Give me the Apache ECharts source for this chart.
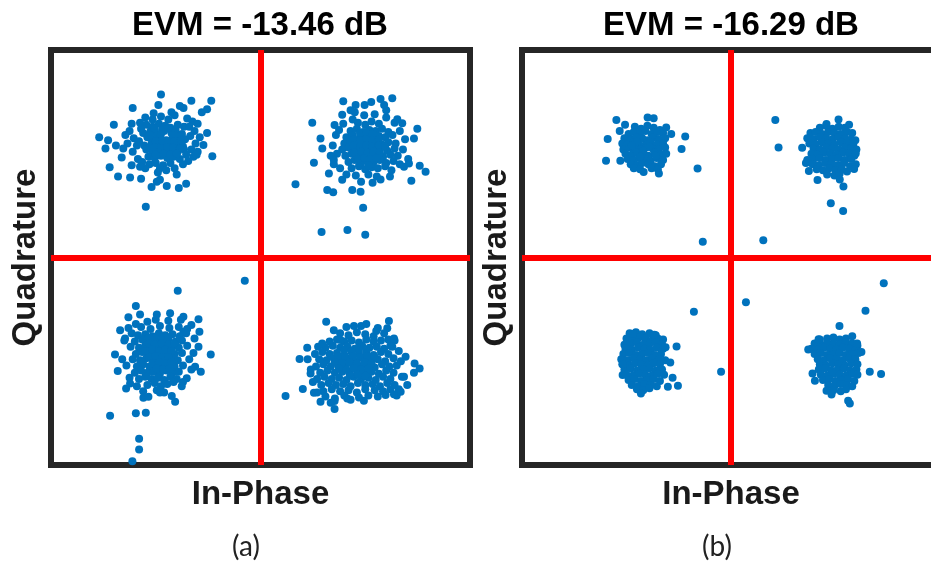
<!DOCTYPE html>
<html>
<head>
<meta charset="utf-8">
<script src="https://cdn.jsdelivr.net/npm/echarts@6/dist/echarts.min.js"></script>
<style>
  html, body { margin: 0; padding: 0; background: #fff; }
  #chart { width: 931px; height: 564px; }
</style>
</head>
<body>
<div id="chart"></div>
<script>
// Panel titles, axis names and captions
const evmTitles = ['EVM = -13.46 dB', 'EVM = -16.29 dB'];
const panelTags = ['(a)', '(b)'];
const xName = 'In-Phase';
const yName = 'Quadrature';

// Received QPSK symbols, panel (a): one array per quadrant [I, Q]
const aTopLeft = [
  [-1.09,1.28],[-1.03,1.26],[-0.97,1.29],[-0.91,1.27],[-0.86,1.25],[-0.79,1.28],[-0.73,1.26],
  [-1.12,1.20],[-1.05,1.22],[-0.99,1.19],[-0.92,1.22],[-0.85,1.20],[-0.81,1.23],[-0.75,1.19],
  [-1.08,1.16],[-1.02,1.14],[-0.96,1.16],[-0.90,1.13],[-0.84,1.15],[-0.78,1.17],[-0.72,1.14],
  [-1.11,1.08],[-1.04,1.10],[-0.98,1.07],[-0.93,1.10],[-0.87,1.08],[-0.80,1.10],[-0.74,1.07],
  [-1.09,1.04],[-1.03,1.02],[-0.97,1.04],[-0.91,1.01],[-0.85,1.03],[-0.79,1.02],[-0.73,1.04],
  [-1.07,0.97],[-1.01,0.96],[-0.95,0.98],[-0.89,0.96],[-0.83,0.97],[-0.77,0.95],
  [-1.01,1.24],[-0.94,1.23],[-0.88,1.25],[-0.83,1.18],[-0.95,1.19],[-1.06,1.18],[-1.00,1.12],
  [-0.94,1.13],[-0.88,1.11],[-0.82,1.12],[-0.76,1.13],[-1.07,1.06],[-1.01,1.06],[-0.95,1.05],
  [-0.89,1.06],[-0.83,1.06],[-0.77,1.05],[-0.93,1.00],[-0.86,0.99],[-1.00,0.99],[-0.80,1.00],
  [-1.25,1.22],[-1.21,1.15],[-1.18,1.08],[-1.22,1.02],[-1.17,0.95],[-1.15,1.30],[-1.10,1.35],
  [-1.03,1.33],[-0.95,1.36],[-0.88,1.33],[-0.82,1.37],[-0.70,1.34],[-0.65,1.31],[-0.63,1.22],
  [-0.67,1.17],[-0.62,1.10],[-0.66,1.04],[-0.64,0.97],[-0.69,0.93],[-0.74,0.90],[-0.86,0.91],
  [-0.93,0.89],[-1.00,0.91],[-1.06,0.90],[-1.13,0.92],[-1.27,1.10],[-1.31,1.05],[-1.16,1.12],
  [-1.14,1.24],[-0.68,1.26],[-0.58,1.16],[-0.60,1.02],[-0.71,0.99],[-0.82,0.86],[-1.10,0.86],[-0.96,0.86],
  [-0.95,1.57],[-1.22,1.44],[-0.66,1.51],[-0.47,1.51],[-0.51,1.43],[-0.56,1.40],[-1.40,1.28],
  [-1.54,1.16],[-1.48,1.05],[-1.455,1.13],[-1.38,1.08],[-1.44,0.87],[-1.36,0.78],[-1.245,0.77],
  [-1.14,0.76],[-1.095,0.49],[-0.46,0.975],[-0.71,0.71],[-0.78,0.67],[-0.895,0.69],[-1.04,0.68],
  [-0.99,0.73],[-0.96,0.75],[-0.80,0.80],[-0.90,0.84],[-0.98,0.82],[-0.61,0.99],[-0.545,1.085],
  [-0.51,1.20],[-0.60,1.29],[-0.735,1.44],[-0.77,1.46],[-0.975,1.47],[-1.02,1.39],[-0.85,1.40],
  [-1.23,1.29],[-1.29,1.18],[-1.325,0.965],[-1.23,0.89],[-1.15,0.875]
];
const aTopRight = [
  [0.93,1.30],[1.00,1.28],[1.06,1.31],[1.13,1.29],
  [0.86,1.22],[0.92,1.24],[0.98,1.21],[1.04,1.23],[1.10,1.22],[1.16,1.24],[1.22,1.21],
  [0.82,1.16],[0.88,1.18],[0.95,1.16],[1.01,1.18],[1.07,1.15],[1.13,1.17],[1.19,1.16],[1.26,1.18],
  [0.80,1.10],[0.86,1.12],[0.92,1.09],[0.98,1.11],[1.04,1.10],[1.10,1.12],[1.16,1.09],[1.22,1.11],[1.29,1.10],
  [0.78,1.04],[0.84,1.06],[0.90,1.03],[0.97,1.05],[1.03,1.06],[1.09,1.04],[1.15,1.06],[1.21,1.03],[1.28,1.05],
  [0.81,0.98],[0.87,1.00],[0.93,0.97],[0.99,0.99],[1.05,0.98],[1.11,1.00],[1.17,0.97],[1.24,0.99],[1.31,0.98],
  [0.84,0.92],[0.90,0.94],[0.96,0.91],[1.02,0.93],[1.08,0.92],[1.14,0.94],[1.20,0.91],[1.27,0.93],
  [0.87,0.86],[0.94,0.88],[1.00,0.85],[1.06,0.87],[1.12,0.86],[1.19,0.88],
  [0.95,1.20],[1.01,1.21],[1.07,1.19],[0.89,1.14],[0.95,1.13],[1.01,1.14],[1.07,1.13],[1.13,1.14],
  [0.89,1.08],[0.95,1.07],[1.01,1.08],[1.07,1.07],[1.13,1.08],[1.19,1.07],[0.90,1.01],[0.96,1.02],
  [1.02,1.01],[1.08,1.02],[1.14,1.01],[0.93,0.95],[0.99,0.96],[1.05,0.95],[1.11,0.96],[1.03,0.89],
  [0.72,1.18],[0.69,1.08],[0.73,1.00],[0.70,0.90],[0.76,0.86],[0.82,0.80],[0.91,0.79],[1.03,0.80],
  [1.11,0.78],[1.25,0.84],[1.33,0.90],[1.36,1.04],[1.38,1.14],[1.33,1.22],[1.28,1.30],[1.20,1.35],
  [1.09,1.38],[0.99,1.37],[0.88,1.33],[0.79,1.29],[0.75,1.23],[0.67,0.98],[0.96,0.73],[1.07,0.72],
  [1.41,0.95],[1.20,1.42],[0.90,1.40],
  [0.79,1.505],[0.494,1.30],[0.334,0.705],[0.583,0.245],[0.83,0.264],[1.00,0.22],[0.98,0.48],
  [0.637,0.65],[0.694,0.63],[0.876,0.65],[0.955,0.634],[1.258,1.535],[1.146,1.528],[1.057,1.50],
  [0.994,1.47],[0.908,1.47],[1.18,1.47],[1.497,1.24],[1.465,1.148],[1.52,0.885],[1.576,0.827],
  [1.44,0.74],[1.37,0.875],[1.417,0.907],[1.236,0.78],[1.146,0.753],[1.353,1.293],[1.306,1.332],
  [0.51,0.914],[0.573,1.148],[0.59,1.05],[0.707,1.277],[0.78,1.375],[0.86,1.42],[0.70,0.94],
  [0.653,0.81],[0.78,0.75]
];
const aBottomLeft = [
  [-1.14,-0.67],[-1.05,-0.69],[-0.96,-0.66],[-0.87,-0.68],[-0.78,-0.67],[-0.70,-0.69],
  [-1.23,-0.73],[-1.17,-0.75],[-1.10,-0.74],[-1.03,-0.76],[-0.97,-0.73],[-0.91,-0.75],[-0.84,-0.74],[-0.77,-0.76],[-0.71,-0.73],
  [-1.20,-0.81],[-1.13,-0.79],[-1.07,-0.81],[-1.00,-0.80],[-0.94,-0.82],[-0.88,-0.79],[-0.81,-0.81],[-0.75,-0.80],
  [-1.24,-0.86],[-1.16,-0.87],[-1.10,-0.85],[-1.04,-0.87],[-0.97,-0.85],[-0.91,-0.88],[-0.85,-0.86],[-0.78,-0.87],[-0.70,-0.85],
  [-1.19,-0.93],[-1.13,-0.91],[-1.06,-0.93],[-1.00,-0.92],[-0.94,-0.94],[-0.88,-0.91],[-0.82,-0.93],[-0.75,-0.92],
  [-1.22,-0.98],[-1.15,-0.99],[-1.09,-0.97],[-1.03,-0.99],[-0.97,-0.98],[-0.91,-1.00],[-0.85,-0.97],[-0.79,-0.99],[-0.68,-0.98],
  [-1.18,-1.05],[-1.12,-1.03],[-1.06,-1.05],[-1.00,-1.04],[-0.94,-1.06],[-0.88,-1.03],[-0.82,-1.05],[-0.74,-1.04],
  [-1.20,-1.11],[-1.14,-1.09],[-1.08,-1.11],[-1.02,-1.10],[-0.96,-1.12],[-0.90,-1.09],[-0.84,-1.11],[-0.78,-1.10],
  [-1.16,-1.17],[-1.10,-1.15],[-1.04,-1.17],[-0.98,-1.16],[-0.92,-1.18],[-0.86,-1.15],[-0.80,-1.17],
  [-1.08,-1.23],[-1.01,-1.21],[-0.95,-1.24],[-0.89,-1.22],[-0.83,-1.20],
  [-1.07,-0.77],[-1.01,-0.78],[-0.94,-0.77],[-0.88,-0.77],[-1.07,-0.83],[-1.01,-0.84],[-0.94,-0.83],
  [-0.88,-0.84],[-0.82,-0.83],[-1.10,-0.90],[-1.03,-0.89],[-0.97,-0.90],[-0.91,-0.89],[-0.85,-0.90],
  [-1.06,-0.96],[-1.00,-0.95],[-0.94,-0.96],[-0.88,-0.96],[-1.03,-1.02],[-0.97,-1.01],[-0.91,-1.02],
  [-0.85,-1.01],[-0.99,-1.07],[-0.93,-1.08],[-0.87,-1.07],
  [-1.30,-0.80],[-1.32,-0.98],[-1.28,-1.04],[-1.25,-1.16],[-1.18,-1.24],[-1.12,-1.29],[-0.99,-1.28],
  [-0.92,-1.30],[-0.74,-1.20],[-0.66,-1.08],[-0.64,-0.92],[-0.63,-0.78],[-0.66,-0.65],[-0.76,-0.60],
  [-0.88,-0.61],[-1.00,-0.60],[-1.08,-0.62],[-1.19,-0.64],[-1.26,-0.68],[-0.99,-0.55],[-1.15,-0.55],
  [-0.15,-0.223],[-0.79,-0.32],[-1.19,-0.468],[-1.436,-1.525],[-1.19,-1.50],[-1.095,-1.497],
  [-1.159,-1.747],[-1.159,-1.85],[-1.223,-1.963],[-1.389,-0.934],[-1.363,-1.095],[-0.475,-0.934],
  [-0.57,-1.101],[-0.592,-0.86],[-0.592,-0.596],[-0.736,-0.57],[-0.863,-0.538],[-1.261,-0.577],
  [-1.34,-0.70],[-1.293,-0.78],[-1.283,-1.262],[-1.245,-1.214],[-1.118,-1.352],[-1.07,-1.342],
  [-0.815,-1.39],[-0.847,-1.336],[-0.96,-1.30],[-0.704,-1.165],[-0.752,-1.24],[-0.624,-1.053],
  [-0.583,-0.715],[-0.736,-0.715]
];
const aBottomRight = [
  [0.76,-0.73],[0.84,-0.75],[0.92,-0.72],[1.00,-0.74],[1.08,-0.76],[1.18,-0.73],
  [0.66,-0.81],[0.73,-0.79],[0.80,-0.81],[0.87,-0.80],[0.94,-0.82],[1.01,-0.79],[1.08,-0.81],[1.15,-0.80],[1.22,-0.79],
  [0.55,-0.86],[0.62,-0.87],[0.69,-0.85],[0.76,-0.87],[0.83,-0.86],[0.90,-0.88],[0.97,-0.85],[1.04,-0.87],[1.11,-0.86],[1.18,-0.88],[1.24,-0.85],
  [0.52,-0.93],[0.59,-0.91],[0.66,-0.93],[0.73,-0.92],[0.80,-0.94],[0.87,-0.91],[0.94,-0.93],[1.01,-0.92],[1.08,-0.94],[1.15,-0.91],[1.22,-0.93],
  [0.56,-0.98],[0.63,-0.99],[0.70,-0.97],[0.77,-0.99],[0.84,-0.98],[0.91,-1.00],[0.98,-0.97],[1.05,-0.99],[1.12,-0.98],[1.19,-1.00],[1.27,-0.97],
  [0.53,-1.05],[0.60,-1.03],[0.67,-1.05],[0.74,-1.04],[0.81,-1.06],[0.88,-1.03],[0.95,-1.05],[1.02,-1.04],[1.09,-1.06],[1.16,-1.03],[1.23,-1.05],[1.30,-1.04],
  [0.57,-1.11],[0.64,-1.09],[0.71,-1.11],[0.78,-1.10],[0.85,-1.12],[0.92,-1.09],[0.99,-1.11],[1.06,-1.10],[1.13,-1.12],[1.20,-1.09],[1.27,-1.11],
  [0.54,-1.17],[0.61,-1.15],[0.68,-1.17],[0.75,-1.16],[0.82,-1.18],[0.89,-1.15],[0.96,-1.17],[1.03,-1.16],[1.10,-1.18],[1.17,-1.15],[1.24,-1.17],
  [0.58,-1.23],[0.65,-1.21],[0.72,-1.23],[0.79,-1.22],[0.86,-1.24],[0.93,-1.21],[1.00,-1.23],[1.07,-1.22],[1.14,-1.24],[1.21,-1.21],[1.28,-1.23],
  [0.60,-1.29],[0.68,-1.27],[0.76,-1.29],[0.84,-1.28],[0.92,-1.30],[1.00,-1.27],[1.09,-1.28],[1.17,-1.29],[1.24,-1.27],
  [0.62,-1.34],[0.71,-1.36],[0.80,-1.33],[0.94,-1.35],[1.03,-1.33],
  [0.80,-0.89],[0.87,-0.90],[0.94,-0.89],[1.01,-0.90],[0.74,-0.95],[0.81,-0.96],[0.88,-0.95],[0.95,-0.96],
  [1.02,-0.95],[1.09,-0.96],[0.71,-1.01],[0.78,-1.02],[0.85,-1.01],[0.92,-1.02],[0.99,-1.01],[1.06,-1.02],
  [0.75,-1.07],[0.82,-1.08],[0.89,-1.07],[0.96,-1.08],[1.03,-1.07],[0.86,-1.14],[0.93,-1.13],[1.00,-1.14],
  [0.45,-0.98],[0.48,-1.08],[0.50,-1.20],[0.70,-0.70],[0.82,-0.67],[0.96,-0.66],[1.12,-0.68],[1.28,-0.80],
  [1.32,-0.90],[1.34,-1.00],[1.35,-1.15],[1.32,-1.27],[1.30,-1.33],[1.12,-1.34],[0.86,-1.37],[0.67,-1.40],[0.54,-1.30],
  [0.239,-1.336],[0.404,-1.268],[0.373,-0.979],[0.446,-0.87],[0.627,-0.619],[0.589,-0.828],[0.707,-1.461],
  [0.707,-1.384],[1.226,-0.612],[1.21,-0.683],[1.105,-0.709],[1.01,-0.641],[0.892,-0.661],[1.385,-0.956],
  [1.471,-1.021],[1.519,-1.069],[1.465,-1.11],[1.401,-1.23],[1.37,-1.149],[1.338,-1.294],[1.274,-1.317],
  [1.194,-1.326],[0.987,-1.381],[0.828,-1.358],[0.573,-1.391],[0.51,-1.304],[0.478,-1.117],[1.258,-0.86],
  [1.274,-0.78],[0.764,-0.796]
];

// Received QPSK symbols, panel (b)
const bTopLeft = [
  [-0.92,1.26],[-0.86,1.24],[-0.80,1.27],[-0.74,1.25],[-0.68,1.23],
  [-0.98,1.19],[-0.93,1.21],[-0.87,1.20],[-0.82,1.22],[-0.76,1.19],[-0.70,1.21],[-0.65,1.20],
  [-1.02,1.15],[-0.96,1.14],[-0.91,1.16],[-0.85,1.15],[-0.80,1.13],[-0.74,1.16],[-0.69,1.14],[-0.63,1.15],
  [-1.04,1.10],[-0.99,1.09],[-0.93,1.11],[-0.88,1.10],[-0.82,1.08],[-0.77,1.11],[-0.71,1.09],[-0.65,1.10],
  [-1.03,1.04],[-0.97,1.06],[-0.92,1.05],[-0.86,1.04],[-0.81,1.06],[-0.75,1.05],[-0.69,1.04],[-0.63,1.06],
  [-1.01,1.00],[-0.95,0.99],[-0.90,1.01],[-0.84,1.00],[-0.79,0.98],[-0.73,1.01],[-0.67,0.99],[-0.62,1.00],
  [-0.99,0.95],[-0.93,0.94],[-0.88,0.96],[-0.82,0.95],[-0.77,0.93],[-0.71,0.96],[-0.65,0.94],
  [-0.96,0.90],[-0.90,0.89],[-0.85,0.91],[-0.79,0.90],[-0.73,0.88],[-0.67,0.90],
  [-0.93,0.86],[-0.87,0.85],[-0.76,0.86],[-0.70,0.85],
  [-0.90,1.12],[-0.84,1.03],[-0.78,1.07],[-0.72,0.98],[-0.87,0.97],[-0.95,1.08],
  [-1.097,1.325],[-1.014,1.28],[-1.065,1.219],[-1.18,1.141],[-1.196,0.932],[-1.059,0.932],
  [-0.438,1.167],[-0.473,1.045],[-0.32,0.858],[-0.27,0.151],[-0.69,0.81],[-0.836,0.823],
  [-0.572,1.19],[-0.62,1.254],[-0.798,1.35],[-0.74,1.341]
];
const bTopRight = [
  [0.85,1.25],[0.91,1.27],[0.97,1.24],[1.03,1.26],[1.09,1.25],[1.13,1.28],
  [0.76,1.20],[0.81,1.21],[0.87,1.19],[0.93,1.21],[0.99,1.20],[1.05,1.19],[1.11,1.21],[1.16,1.20],
  [0.73,1.15],[0.79,1.14],[0.85,1.16],[0.91,1.15],[0.97,1.14],[1.03,1.16],[1.09,1.15],[1.15,1.14],[1.19,1.13],
  [0.75,1.10],[0.81,1.09],[0.87,1.11],[0.93,1.10],[0.99,1.09],[1.05,1.11],[1.11,1.10],[1.17,1.09],
  [0.79,1.05],[0.85,1.04],[0.91,1.06],[0.97,1.05],[1.03,1.04],[1.09,1.06],[1.15,1.05],[1.20,1.04],
  [0.77,1.00],[0.83,0.99],[0.89,1.01],[0.95,1.00],[1.01,0.99],[1.07,1.01],[1.13,1.00],[1.18,0.98],
  [0.73,0.94],[0.79,0.95],[0.85,0.96],[0.91,0.94],[0.97,0.95],[1.03,0.96],[1.09,0.94],[1.15,0.95],
  [0.78,0.90],[0.84,0.89],[0.90,0.91],[0.96,0.90],[1.02,0.89],[1.08,0.91],[1.14,0.88],
  [0.82,0.85],[0.88,0.84],[0.94,0.86],[1.00,0.84],[1.06,0.85],[1.11,0.83],
  [0.92,0.80],[0.99,0.79],[1.04,0.81],
  [0.424,1.325],[0.455,1.061],[0.309,0.167],[0.955,0.524],[1.073,0.447],[1.076,0.685],[0.828,0.746],
  [1.029,1.331],[0.914,1.286],[0.681,1.058],[0.717,0.91],[0.745,0.833],[1.194,1.003],[1.194,0.90],
  [1.178,0.852],[1.169,1.116],[1.041,0.752]
];
const bBottomLeft = [
  [-0.97,-0.73],[-0.91,-0.72],[-0.85,-0.74],[-0.78,-0.73],[-0.72,-0.75],
  [-1.00,-0.78],[-0.94,-0.79],[-0.88,-0.77],[-0.82,-0.78],[-0.76,-0.80],[-0.70,-0.78],[-0.65,-0.79],
  [-1.02,-0.84],[-0.96,-0.83],[-0.90,-0.82],[-0.84,-0.84],[-0.78,-0.83],[-0.72,-0.82],[-0.66,-0.84],
  [-1.01,-0.88],[-0.95,-0.89],[-0.89,-0.87],[-0.83,-0.88],[-0.77,-0.89],[-0.71,-0.87],[-0.65,-0.88],
  [-1.03,-0.93],[-0.97,-0.92],[-0.91,-0.94],[-0.85,-0.93],[-0.79,-0.92],[-0.73,-0.94],[-0.67,-0.93],
  [-1.05,-0.98],[-0.99,-0.99],[-0.93,-0.97],[-0.87,-0.98],[-0.81,-0.99],[-0.75,-0.97],[-0.69,-0.98],[-0.63,-0.99],
  [-1.04,-1.03],[-0.98,-1.04],[-0.92,-1.02],[-0.86,-1.03],[-0.80,-1.04],[-0.74,-1.02],[-0.68,-1.03],
  [-1.02,-1.08],[-0.96,-1.07],[-0.90,-1.09],[-0.84,-1.08],[-0.78,-1.07],[-0.72,-1.09],[-0.66,-1.08],
  [-1.00,-1.13],[-0.94,-1.14],[-0.88,-1.12],[-0.82,-1.13],[-0.76,-1.14],[-0.70,-1.12],[-0.64,-1.13],
  [-0.98,-1.18],[-0.92,-1.17],[-0.86,-1.19],[-0.80,-1.18],[-0.74,-1.17],[-0.68,-1.19],
  [-0.95,-1.23],[-0.89,-1.24],[-0.83,-1.22],[-0.77,-1.23],[-0.71,-1.24],
  [-0.90,-1.27],[-0.84,-1.28],[-0.78,-1.26],
  [-0.355,-0.522],[-0.095,-1.10],[-0.521,-0.857],[-0.581,-1.011],[-0.508,-1.236],[-0.559,-1.159],
  [-0.604,-1.246],[-0.862,-1.31],[-0.938,-0.738],[-0.734,-0.744],[-1.034,-1.03],[-1.037,-1.133],[-0.626,-0.866]
];
const bBottomRight = [
  [0.85,-0.79],[0.92,-0.78],[0.98,-0.77],[1.04,-0.79],[1.10,-0.78],[1.16,-0.76],
  [0.80,-0.83],[0.86,-0.84],[0.92,-0.82],[0.98,-0.83],[1.04,-0.84],[1.10,-0.82],[1.16,-0.83],[1.21,-0.85],
  [0.77,-0.88],[0.83,-0.89],[0.89,-0.87],[0.95,-0.88],[1.01,-0.89],[1.07,-0.87],[1.13,-0.88],[1.19,-0.89],
  [0.80,-0.93],[0.86,-0.92],[0.92,-0.94],[0.98,-0.93],[1.04,-0.92],[1.10,-0.94],[1.16,-0.93],[1.22,-0.92],
  [0.83,-0.98],[0.89,-0.99],[0.95,-0.97],[1.01,-0.98],[1.07,-0.99],[1.13,-0.97],[1.19,-0.98],
  [0.85,-1.03],[0.91,-1.04],[0.97,-1.02],[1.03,-1.03],[1.09,-1.04],[1.15,-1.02],[1.21,-1.03],
  [0.84,-1.08],[0.90,-1.07],[0.96,-1.09],[1.02,-1.08],[1.08,-1.07],[1.14,-1.09],[1.20,-1.08],
  [0.86,-1.13],[0.92,-1.14],[0.98,-1.12],[1.04,-1.13],[1.10,-1.14],[1.16,-1.12],[1.21,-1.13],
  [0.88,-1.18],[0.94,-1.17],[1.00,-1.19],[1.06,-1.18],[1.12,-1.17],[1.18,-1.19],
  [0.93,-1.23],[0.99,-1.24],[1.05,-1.22],[1.11,-1.23],[1.16,-1.24],
  [0.98,-1.28],[1.05,-1.29],[1.10,-1.27],
  [0.143,-0.432],[1.462,-0.249],[1.287,-0.513],[1.038,-0.661],[1.328,-1.101],[1.436,-1.124],
  [1.121,-1.381],[1.137,-1.407],[0.739,-0.886],[0.838,-0.789],[0.78,-1.117],[0.803,-1.188],
  [1.207,-0.828],[1.248,-0.911],[0.962,-1.32],[0.914,-1.284]
];

const panelA = [].concat(aTopLeft, aTopRight, aBottomLeft, aBottomRight);
const panelB = [].concat(bTopLeft, bTopRight, bBottomLeft, bBottomRight);

const chart = echarts.init(document.getElementById('chart'), null, { renderer: 'canvas' });

const boldFont = { fontFamily: 'Liberation Sans', fontWeight: 'bold', fontSize: 33, color: '#1a1a1a' };
const titleFont = { fontFamily: 'Liberation Sans', fontWeight: 'bold', fontSize: 33, color: '#000' };
const tagFont = { fontFamily: 'Lato', fontWeight: 'normal', fontSize: 28, color: '#222' };
const axisRange = 2;

function xAxisFor(idx) {
  return {
    gridIndex: idx, type: 'value', min: -axisRange, max: axisRange,
    name: xName, nameLocation: 'middle', nameGap: 13,
    nameTextStyle: boldFont,
    axisLine: { show: false, onZero: false }, axisTick: { show: false },
    axisLabel: { show: false }, splitLine: { show: false }
  };
}
function yAxisFor(idx) {
  return {
    gridIndex: idx, type: 'value', min: -axisRange, max: axisRange,
    name: yName, nameLocation: 'middle', nameGap: 9, nameRotate: 90,
    nameTextStyle: boldFont,
    axisLine: { show: false, onZero: false }, axisTick: { show: false },
    axisLabel: { show: false }, splitLine: { show: false }
  };
}
function scatterFor(idx, data) {
  return {
    type: 'scatter', xAxisIndex: idx, yAxisIndex: idx, data: data,
    symbolSize: 8, itemStyle: { color: '#0072BD', opacity: 1 },
    silent: true,
    markLine: {
      silent: true, symbol: ['none', 'none'], z: 5,
      label: { show: false },
      lineStyle: { color: '#ff0000', width: 6, type: 'solid' },
      emphasis: { disabled: true },
      data: [{ xAxis: 0 }, { yAxis: 0 }]
    }
  };
}

chart.setOption({
  animation: false,
  backgroundColor: '#ffffff',
  title: [
    { text: evmTitles[0], left: 260, top: 9, padding: 0, textAlign: 'center', textStyle: titleFont },
    { text: evmTitles[1], left: 731, top: 9, padding: 0, textAlign: 'center', textStyle: titleFont },
    { text: panelTags[0], left: 246, top: 533, padding: 0, textAlign: 'center', textStyle: tagFont },
    { text: panelTags[1], left: 717, top: 533, padding: 0, textAlign: 'center', textStyle: tagFont }
  ],
  grid: [
    { left: 51, top: 50, width: 419, height: 415, show: true, outerBoundsMode: 'none',
      borderColor: '#262626', borderWidth: 6, backgroundColor: '#ffffff' },
    { left: 522, top: 50, width: 418, height: 415, show: true, outerBoundsMode: 'none',
      borderColor: '#262626', borderWidth: 6, backgroundColor: '#ffffff' }
  ],
  xAxis: [xAxisFor(0), xAxisFor(1)],
  yAxis: [yAxisFor(0), yAxisFor(1)],
  series: [scatterFor(0, panelA), scatterFor(1, panelB)]
});
</script>
</body>
</html>
